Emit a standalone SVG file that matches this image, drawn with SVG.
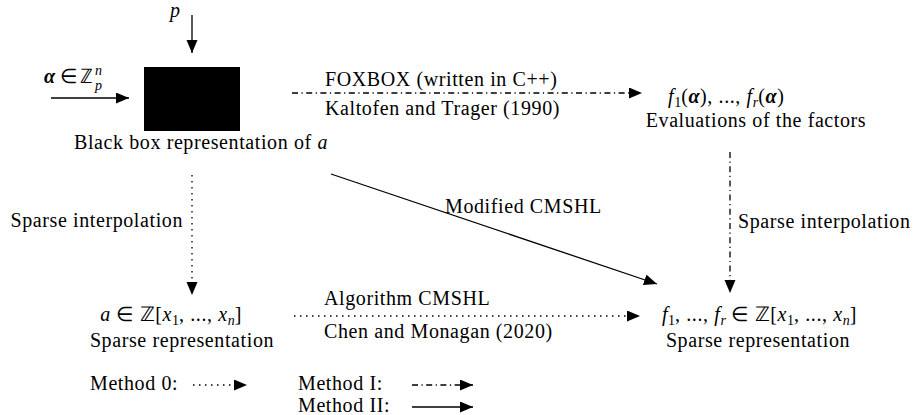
<svg xmlns="http://www.w3.org/2000/svg" width="914" height="415" viewBox="0 0 914 415">
<style>
text{font-family:"Liberation Serif","Times New Roman",serif;font-size:20px;letter-spacing:0.6px;fill:#000}
.m{text-anchor:middle}
.e{text-anchor:end}
.i{font-style:italic}
.bi{font-style:italic;font-weight:bold}
.s{font-size:14px;letter-spacing:0}
.ln{stroke:#000;stroke-width:1.3;fill:none}
.dd{stroke-dasharray:6 3.5 1.2 3.5}
.dt{stroke-dasharray:1.5 4.5}
</style>
<defs>
<marker id="ah" markerUnits="userSpaceOnUse" markerWidth="14" markerHeight="12" refX="13" refY="5.5" orient="auto">
<path d="M0,0 L13,5.5 L0,11 z" fill="#000"/>
</marker>
</defs>
<rect width="914" height="415" fill="#fff"/>

<g id="blackbox">
<rect x="144" y="67" width="96" height="64" fill="#000"/>
<text x="201" y="149" class="m">Black box representation of <tspan class="i">a</tspan></text>
</g>
<g id="input-p">
<text x="170" y="17" class="i">p</text>
</g>
<g id="input-alpha">
<text y="83"><tspan x="44" class="bi">α</tspan><tspan x="60">∈</tspan><tspan x="80">ℤ</tspan></text>
<text x="95" y="75" class="s i">n</text>
<text x="95" y="90" class="s i">p</text>
</g>
<g id="evaluations">
<text x="668" y="103"><tspan class="i">f</tspan><tspan class="s" dy="4">1</tspan><tspan dy="-4">(</tspan><tspan class="bi">α</tspan>), ..., <tspan class="i">f</tspan><tspan class="s i" dy="4">r</tspan><tspan dy="-4">(</tspan><tspan class="bi">α</tspan>)</text>
<text x="756" y="127" class="m">Evaluations of the factors</text>
</g>
<g id="sparse-a">
<text x="242" y="321" class="e"><tspan class="i">a</tspan> ∈ ℤ[<tspan class="i">x</tspan><tspan class="s" dy="4">1</tspan><tspan dy="-4">, ..., </tspan><tspan class="i">x</tspan><tspan class="s i" dy="4">n</tspan><tspan dy="-4">]</tspan></text>
<text x="182" y="347" class="m">Sparse representation</text>
</g>
<g id="sparse-factors">
<text x="857" y="321" class="e"><tspan class="i">f</tspan><tspan class="s" dy="4">1</tspan><tspan dy="-4">, ..., </tspan><tspan class="i">f</tspan><tspan class="s i" dy="4">r</tspan><tspan dy="-4"> ∈ ℤ[</tspan><tspan class="i">x</tspan><tspan class="s" dy="4">1</tspan><tspan dy="-4">, ..., </tspan><tspan class="i">x</tspan><tspan class="s i" dy="4">n</tspan><tspan dy="-4">]</tspan></text>
<text x="758" y="347" class="m">Sparse representation</text>
</g>

<g id="connectors">
<line x1="192" y1="15" x2="192" y2="53" class="ln" marker-end="url(#ah)"/>
<line x1="51" y1="98" x2="129" y2="98" class="ln" marker-end="url(#ah)"/>
<line x1="292" y1="93" x2="642" y2="93" class="ln dd" marker-end="url(#ah)"/>
<line x1="730" y1="152" x2="730" y2="293" class="ln dd" marker-end="url(#ah)"/>
<line x1="192" y1="175" x2="192" y2="295" class="ln dt" marker-end="url(#ah)"/>
<line x1="331" y1="174" x2="657" y2="284" class="ln" marker-end="url(#ah)"/>
<line x1="294" y1="316" x2="640" y2="316" class="ln dt" marker-end="url(#ah)"/>
</g>
<g id="connector-labels">
<text x="325" y="86">FOXBOX (written in C++)</text>
<text x="325" y="115">Kaltofen and Trager (1990)</text>
<text x="183" y="227" class="e">Sparse interpolation</text>
<text x="738" y="228">Sparse interpolation</text>
<text x="445" y="213">Modified CMSHL</text>
<text x="324" y="305">Algorithm CMSHL</text>
<text x="324" y="338">Chen and Monagan (2020)</text>
</g>

<g id="legend">
<text x="90" y="390">Method 0:</text>
<line x1="193" y1="385" x2="247" y2="385" class="ln dt" marker-end="url(#ah)"/>
<text x="298" y="390">Method I:</text>
<line x1="412" y1="385" x2="473" y2="385" class="ln dd" marker-end="url(#ah)"/>
<text x="298" y="412">Method II:</text>
<line x1="412" y1="407" x2="473" y2="407" class="ln" marker-end="url(#ah)"/>
</g>
</svg>
